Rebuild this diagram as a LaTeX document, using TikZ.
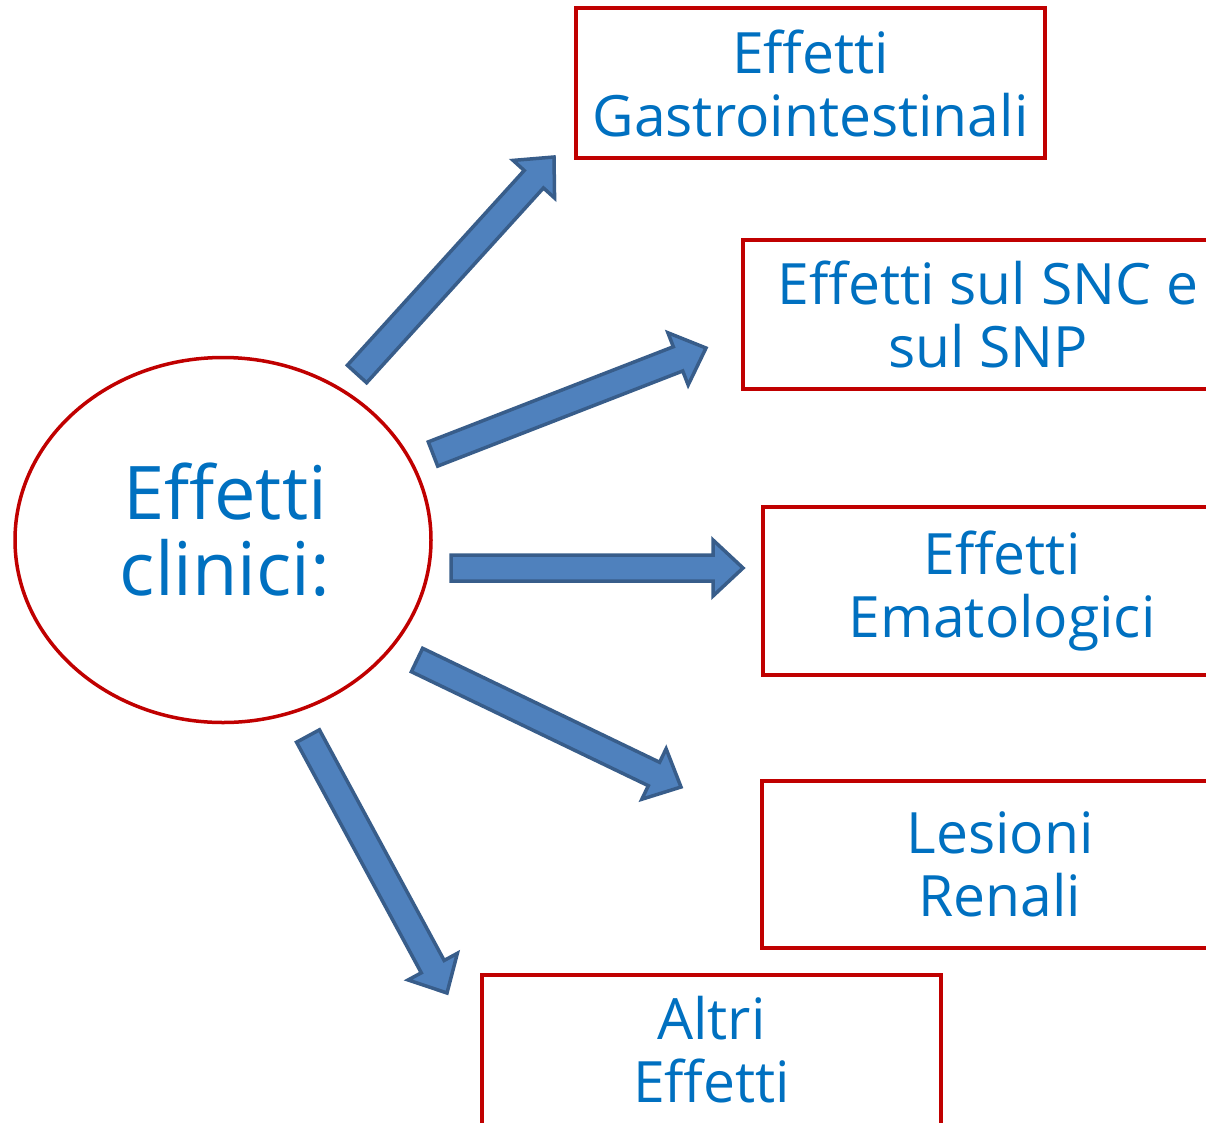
\documentclass[tikz,border=0pt]{standalone}
\usepackage{fontspec}
\setmainfont{Open Sans}
\usetikzlibrary{shapes.geometric, calc}

\definecolor{boxred}{HTML}{C00000}
\definecolor{txtblue}{HTML}{0070C0}
\definecolor{arrfill}{HTML}{4F81BD}
\definecolor{arrline}{HTML}{385D8A}

\tikzset{
  effbox/.style={draw=boxred, line width=3.5pt, text=txtblue, align=center,
    font=\fontsize{57}{63}\selectfont, inner sep=0pt},
  bigarrow/.style={fill=arrfill, draw=arrline, line width=3.5pt, line join=miter},
}

% block arrow from tail #1 to tip #2, #3 names the head base
\newcommand{\blockarrow}[3]{%
  \coordinate (#3) at ($(#2)!30pt!(#1)$);
  \filldraw[bigarrow] ($(#1)!13pt!90:(#2)$) -- ($(#3)!13pt!90:(#2)$)
    -- ($(#3)!28pt!90:(#2)$) -- (#2) -- ($(#3)!28pt!-90:(#2)$)
    -- ($(#3)!13pt!-90:(#2)$) -- ($(#1)!13pt!-90:(#2)$) -- cycle;}

\begin{document}
\begin{tikzpicture}[x=1pt, y=-1pt]
  \useasboundingbox (0,0) rectangle (1206,1122);
  \clip (0,0) rectangle (1206,1122);

  \node[ellipse, draw=boxred, line width=3.5pt, minimum width=416pt,
    minimum height=365pt] (clin) at (223,540) {};
  \node[text=txtblue, align=center, font=\fontsize{74}{76}\selectfont]
    (clintext) at (225,530) {Effetti\\clinici:};

  \node[effbox, minimum width=469pt, minimum height=150pt] (gastro) at (810.5,83)
    {Effetti\\Gastrointestinali};
  \node[effbox, minimum width=490pt, minimum height=149pt] (snc) at (988,314.5)
    {Effetti sul SNC e\\sul SNP};
  \node[effbox, minimum width=478pt, minimum height=168pt] (emato) at (1002,591)
    {Effetti\\Ematologici};
  \node[effbox, minimum width=476pt, minimum height=167pt] (renali) at (1000,864.5)
    {Lesioni\\Renali};
  \node[effbox, minimum width=459pt, minimum height=150pt] (altri) at (711.5,1050)
    {Altri\\Effetti};

  \coordinate (t1) at (357,374);  \coordinate (h1) at (554,157);
  \coordinate (t2) at (433,454);  \coordinate (h2) at (706,348);
  \coordinate (t3) at (451,568);  \coordinate (h3) at (743,568);
  \coordinate (t4) at (417,660);  \coordinate (h4) at (681,787);
  \coordinate (t5) at (308,736);  \coordinate (h5) at (447,993);

  \blockarrow{t1}{h1}{b1}
  \blockarrow{t2}{h2}{b2}
  \blockarrow{t3}{h3}{b3}
  \blockarrow{t4}{h4}{b4}
  \blockarrow{t5}{h5}{b5}
\end{tikzpicture}
\end{document}
